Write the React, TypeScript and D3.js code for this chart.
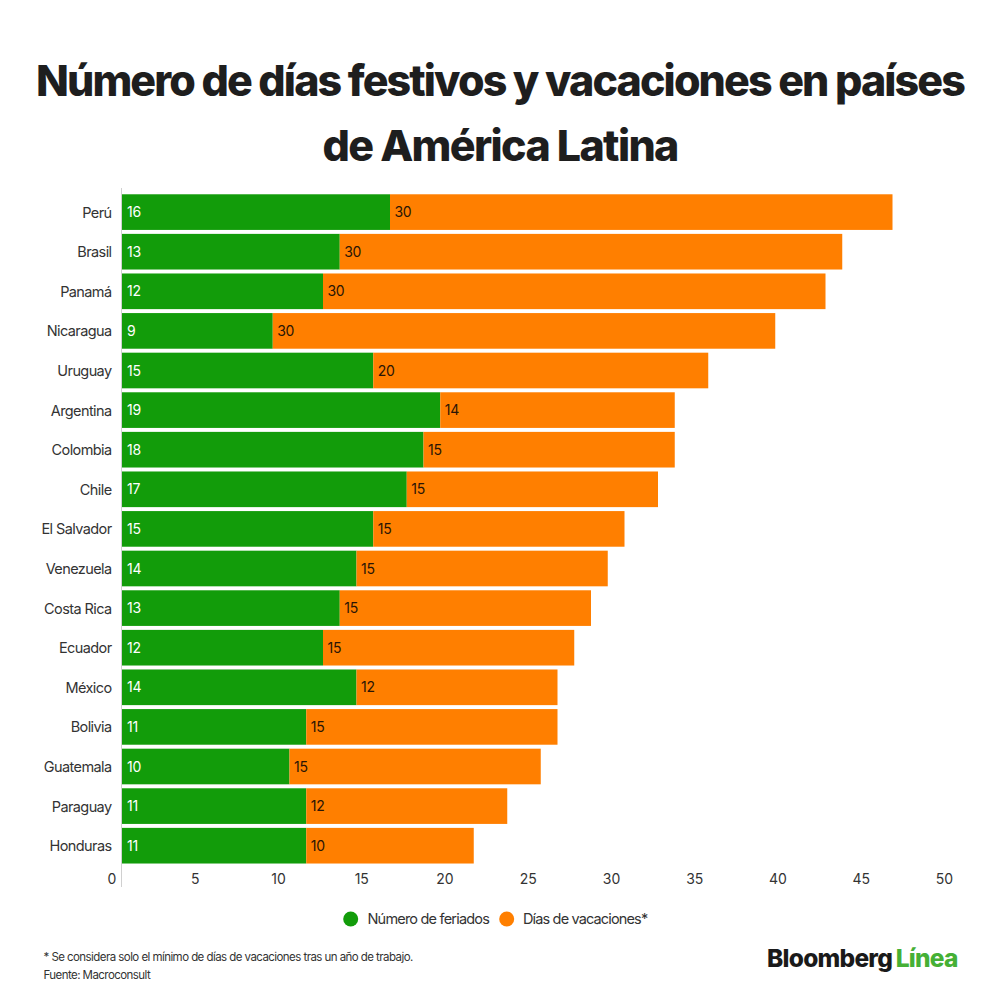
import React from "react";
import * as d3 from "d3";

const countries = ["Perú","Brasil","Panamá","Nicaragua","Uruguay","Argentina","Colombia","Chile","El Salvador","Venezuela","Costa Rica","Ecuador","México","Bolivia","Guatemala","Paraguay","Honduras"];
const feriados = [16,13,12,9,15,19,18,17,15,14,13,12,14,11,10,11,11];
const vacaciones = [30,30,30,30,20,14,15,15,15,15,15,15,12,15,15,12,10];
const ticks = [0,5,10,15,20,25,30,35,40,45,50];
const titleLines = ["Número de días festivos y vacaciones en países", "de América Latina"];
const seriesNames = ["Número de feriados", "Días de vacaciones*"];
const footnotes = ["* Se considera solo el mínimo de días de vacaciones tras un año de trabajo.", "Fuente: Macroconsult"];

const GREEN = "#129c0a";
const ORANGE = "#ff7f00";
const FONT = "Inter, 'Noto Sans', sans-serif";

export default function App() {
  const x = d3.scaleLinear().domain([0, 50]).range([122, 959.5]);
  const xt = d3.scaleLinear().domain([0, 50]).range([112, 944.5]);
  const y = d3.scaleBand().domain(countries).range([194.3 - 2, 194.3 - 2 + 39.6 * 17]).paddingInner(0.1).paddingOuter(0.05);
  const bh = y.bandwidth();
  const titleWidths = [928, 355];

  return (
    <svg width={1000} height={1000} style={{ position: "absolute", left: 0, top: 0, background: "#fff" }} fontFamily={FONT}>
      <rect x={0} y={0} width={1000} height={1000} fill="#fff" />
      {titleLines.map((t, i) => (
        <text key={i} x={500} y={95.7 + i * 65.3} textAnchor="middle" fontSize={43} fontWeight={800} fill="#1e1e1e"
          letterSpacing={-1.85} textLength={titleWidths[i]} lengthAdjust="spacing">{t}</text>
      ))}
      <line x1={121.5} x2={121.5} y1={188} y2={887} stroke="#d0d0d0" strokeWidth={1} />
      {countries.map((c, i) => {
        const yy = y(c)!;
        const cy = yy + bh / 2;
        return (
          <g key={c}>
            <rect x={x(0)} y={yy} width={x(feriados[i]) - x(0)} height={bh} fill={GREEN} />
            <rect x={x(feriados[i])} y={yy} width={x(feriados[i] + vacaciones[i]) - x(feriados[i])} height={bh} fill={ORANGE} />
            <text x={111.5} y={cy + 5.5} textAnchor="end" fontSize={14.5} fill="#333" letterSpacing={-0.6}>{c}</text>
            <text x={x(0) + 5} y={cy + 5} fontSize={14} fill="#fff" letterSpacing={-0.3}>{feriados[i]}</text>
            <text x={x(feriados[i]) + 4.5} y={cy + 5} fontSize={14} fill="#2a1506" letterSpacing={-0.3}>{vacaciones[i]}</text>
          </g>
        );
      })}
      {ticks.map((t) => (
        <text key={t} x={xt(t)} y={883.5} textAnchor="middle" fontSize={14} fill="#333">{t}</text>
      ))}
      <g>
        <circle cx={350.7} cy={919} r={7.5} fill={GREEN} />
        <text x={367.5} y={924} fontSize={14.5} fill="#333" letterSpacing={-0.8}>{seriesNames[0]}</text>
        <circle cx={506.7} cy={919} r={7.5} fill={ORANGE} />
        <text x={523} y={924} fontSize={14.5} fill="#333" letterSpacing={-0.85}>{seriesNames[1]}</text>
      </g>
      {footnotes.map((f, i) => (
        <text key={i} x={43.5} y={961 + i * 17.5} fontSize={11.5} fill="#333" letterSpacing={-0.56}>{f}</text>
      ))}
      <text x={767} y={967} fontSize={24.5} fontWeight={800} letterSpacing={-0.75}>
        <tspan fill="#1a1a1a">Bloomberg</tspan>
        <tspan fill="#45b035" dx={3.5}>Línea</tspan>
      </text>
    </svg>
  );
}
